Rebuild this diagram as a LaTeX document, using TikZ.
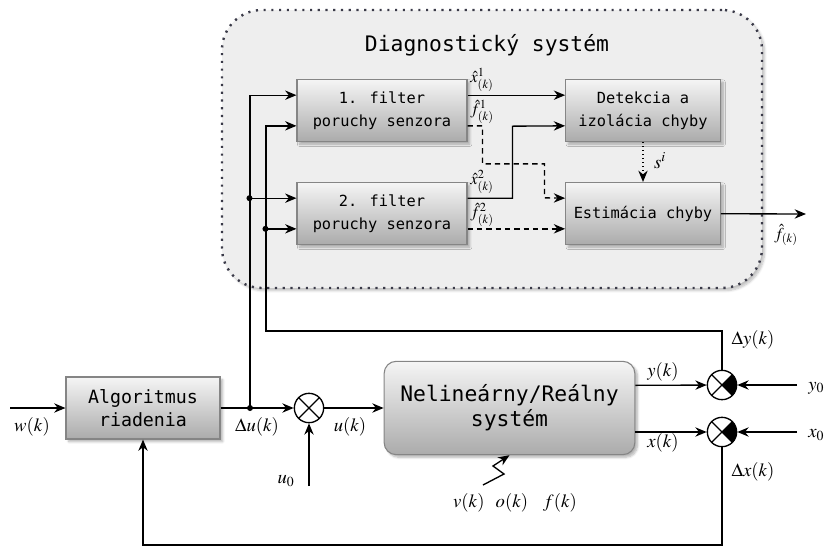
\documentclass[tikz,border=0pt]{standalone}
\usepackage{mathptmx}
\usepackage[no-math]{fontspec}
\newfontfamily\blockfont{DejaVu Sans Mono}
\usetikzlibrary{arrows.meta,positioning,shadows.blur}
\definecolor{boxtop}{HTML}{F5F5F5}
\definecolor{boxbot}{HTML}{ABABAB}
\definecolor{boxline}{HTML}{858585}
\definecolor{diagfill}{HTML}{EEEEEE}
\definecolor{diagline}{HTML}{3A3A48}

\begin{document}
\begin{tikzpicture}[
  x=0.75pt, y=-0.75pt,
  block/.style={draw=boxline, line width=0.8pt, top color=boxtop, bottom color=boxbot, align=center, inner sep=2pt,
    blur shadow={shadow xshift=2pt, shadow yshift=-2pt, shadow opacity=30, shadow blur steps=6}},
  smallblock/.style={block, minimum width=127.5pt, minimum height=46.5pt, font=\blockfont\fontsize{11.5}{17}\selectfont},
  container/.style={draw=diagline, fill=diagfill, line width=1.8pt, dash pattern=on 1.6pt off 4.2pt, rounded corners=30pt,
    blur shadow={shadow xshift=2pt, shadow yshift=-2pt, shadow opacity=25, shadow blur steps=6}},
  sumj/.style={circle, draw, line width=1pt, fill=white, minimum size=22pt, inner sep=0pt,
    path picture={\draw[black, line width=0.9pt] (path picture bounding box.south west) -- (path picture bounding box.north east)
      (path picture bounding box.north west) -- (path picture bounding box.south east);}},
  sumf/.style={sumj,
    path picture={\fill[black] (path picture bounding box.center) -- (path picture bounding box.north east) -- (path picture bounding box.south east) -- cycle;
      \draw[black, line width=0.9pt] (path picture bounding box.south west) -- (path picture bounding box.north east)
      (path picture bounding box.north west) -- (path picture bounding box.south east);}},
  arr/.style={-{Stealth[length=8.5pt, width=7pt]}, line width=1pt},
  darr/.style={arr, dash pattern=on 4pt off 3pt},
  sig/.style={font=\fontsize{14}{16}\selectfont, inner sep=0pt},
  hatlbl/.style={font=\fontsize{12.5}{14}\selectfont, inner sep=0pt},
  dot/.style={circle, fill, inner sep=0pt, minimum size=4.5pt}
]
\useasboundingbox (0,0) rectangle (836,547);

% diagnosticky system
\node[container, minimum width=405pt, minimum height=208.5pt] (diag) at (492,149) {};
\node[font=\blockfont\fontsize{16}{18}\selectfont] (title) at (487,45) {Diagnostický systém};

\node[smallblock] (filt1) at (382,110.5) {1. filter\\poruchy senzora};
\node[smallblock] (filt2) at (382,213.5) {2. filter\\poruchy senzora};
\node[smallblock, minimum width=116pt] (det) at (643,110.5) {Detekcia a\\izolácia chyby};
\node[smallblock, minimum width=116pt] (est) at (643,213.5) {Estimácia chyby};

% riadiaca slucka
\node[block, minimum width=115.5pt, minimum height=46.5pt, font=\blockfont\fontsize{13.7}{16.7}\selectfont] (alg) at (143,408) {Algoritmus\\riadenia};
\node[block, rounded corners=9pt, minimum width=188pt, minimum height=70pt, font=\blockfont\fontsize{16}{18.75}\selectfont] (sys) at (509.5,408) {Nelineárny/Reálny\\systém};

\node[sumj] (sumu) at (309,408) {};
\node[sumf] (sumy) at (722,385) {};
\node[sumf] (sumx) at (722,432) {};

\coordinate (win) at (10,408);
\coordinate (du) at (250,408);
\coordinate (dyb) at (266,331);
\coordinate (u0) at (309,486);
\coordinate (y0) at (797,385);
\coordinate (x0) at (797,432);
\coordinate (zz) at (483,485);
\coordinate (bot) at (143,545);
\coordinate (fout) at (806,214);

\draw[arr] (win) -- (alg);
\draw[arr] (alg) -- (sumu);
\draw[arr] (sumu) -- (sys);
\draw[arr] (u0) -- (sumu);
\draw[arr] ([yshift=17pt]sys.east) -- (sumy);
\draw[arr] ([yshift=-18pt]sys.east) -- (sumx);
\draw[arr] (y0) -- (sumy);
\draw[arr] (x0) -- (sumx);
\draw[arr] (sumx) |- (bot) -- (alg);
\draw[arr] (zz) -- ++(21,-11) -- ++(-11,-8) -- (sys.south);

% vstupy filtrov
\draw[arr] (du) |- ([yshift=11.5pt]filt1.west);
\draw[arr] ([yshift=11.5pt]filt2.west) ++(-47,0) coordinate (ja) -- ([yshift=11.5pt]filt2.west);
\draw[arr] (sumy) |- (dyb) |- ([yshift=-11.5pt]filt1.west);
\draw[arr] ([yshift=-11.5pt]filt2.west) ++(-31,0) coordinate (jb) -- ([yshift=-11.5pt]filt2.west);
\node[dot] (d1) at (du) {};
\node[dot] (d2) at (ja) {};
\node[dot] (d3) at (jb) {};

% vystupy filtrov
\draw[arr] ([yshift=11.5pt]filt1.east) -- ([yshift=11.5pt]det.west);
\draw[darr] ([yshift=-11.5pt]filt1.east) -| ++(15,38) -| ++(62,34) -- ([yshift=11.5pt]est.west);
\draw[arr] ([yshift=11.5pt]filt2.east) -| ++(45,-72) -- ([yshift=-11.5pt]det.west);
\draw[darr] ([yshift=-11.5pt]filt2.east) -- ([yshift=-11.5pt]est.west);
\draw[arr, dotted] (det) -- (est);
\draw[arr] (est) -- (fout);

% popisy
\node[sig] (lw) at (32,427) {$w(k)$};
\node[sig] (ldu) at (257,427) {$\Delta u(k)$};
\node[sig] (lu) at (350,427) {$u(k)$};
\node[sig] (lu0) at (286,481) {$u_0$};
\node[sig] (ly) at (663,372) {$y(k)$};
\node[sig] (lx) at (663,443) {$x(k)$};
\node[sig] (ldy) at (753,340) {$\Delta y(k)$};
\node[sig] (ldx) at (753,472) {$\Delta x(k)$};
\node[sig, anchor=west] (ly0) at (808,388) {$y_0$};
\node[sig, anchor=west] (lx0) at (808,435) {$x_0$};
\node[sig] (lvof) at (515,503) {$v(k)\hspace{0.6em}o(k)\hspace{0.8em}f(k)$};
\node[sig] (ls) at (660,161) {$s^{i}$};
\node[hatlbl] (lf) at (786,235) {$\hat{f}_{(k)}$};
\node[hatlbl] (lx1) at (482,80) {$\hat{x}^{1}_{(k)}$};
\node[hatlbl] (lf1) at (482,112) {$\hat{f}^{1}_{(k)}$};
\node[hatlbl] (lx2) at (482,182) {$\hat{x}^{2}_{(k)}$};
\node[hatlbl] (lf2) at (482,215) {$\hat{f}^{2}_{(k)}$};
\end{tikzpicture}
\end{document}
